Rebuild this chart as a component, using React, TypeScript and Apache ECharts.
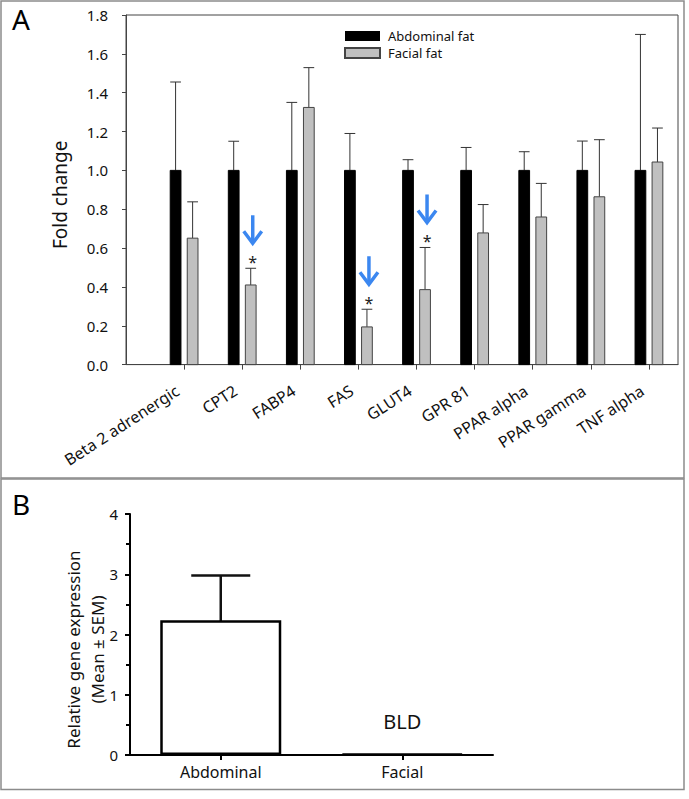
import React, { useEffect, useRef } from "react";
import * as echarts from "echarts";

// ---------- Panel A data ----------
const categories = [
  "Beta 2 adrenergic",
  "CPT2",
  "FABP4",
  "FAS",
  "GLUT4",
  "GPR 81",
  "PPAR alpha",
  "PPAR gamma",
  "TNF alpha",
];
const abdominalMean = [1, 1, 1, 1, 1, 1, 1, 1, 1];
const abdominalSem = [0.455, 0.15, 0.35, 0.19, 0.055, 0.118, 0.096, 0.151, 0.7];
const facialMean = [0.651, 0.41, 1.324, 0.194, 0.386, 0.678, 0.76, 0.864, 1.043];
const facialSem = [0.187, 0.086, 0.205, 0.091, 0.217, 0.146, 0.173, 0.294, 0.175];
const significant = [false, true, false, true, true, false, false, false, false];
const seriesNames = ["Abdominal fat", "Facial fat"];

// ---------- Panel B data ----------
const groupsB = ["Abdominal", "Facial"];
const expressionMean = [2.236, 0.02];
const expressionSem = [0.745, 0];
const groupNotes = ["", "BLD"];

const FONT = "Noto Sans";
const BLUE = "#3b87f0";

function barRenderer(offsetFrac: number, fill: string, stroke: string) {
  return (params: any, api: any) => {
    const x = api.value(0);
    const m = api.value(1);
    const s = api.value(2);
    const unit = api.size([1, 0])[0];
    const base = api.coord([x, 0]);
    const top = api.coord([x, m]);
    const et = api.coord([x, m + s]);
    const cx = base[0] + offsetFrac * unit;
    const w = 0.185 * unit;
    return {
      type: "group",
      children: [
        {
          type: "line",
          shape: { x1: cx, y1: top[1], x2: cx, y2: et[1] },
          style: { stroke: "#333", lineWidth: 1 },
        },
        {
          type: "line",
          shape: { x1: cx - w / 2, y1: et[1], x2: cx + w / 2, y2: et[1] },
          style: { stroke: "#333", lineWidth: 1 },
        },
        {
          type: "rect",
          shape: { x: cx - w / 2, y: top[1], width: w, height: base[1] - top[1] },
          style: { fill, stroke, lineWidth: 1 },
        },
      ],
    };
  };
}

export default function App() {
  const ref = useRef<HTMLDivElement>(null);

  useEffect(() => {
    if (!ref.current) return;
    const chart = echarts.init(ref.current, null, { renderer: "svg" });

    const abdData = categories.map((_, i) => [i + 1, abdominalMean[i], abdominalSem[i]]);
    const facData = categories.map((_, i) => [i + 1, facialMean[i], facialSem[i]]);
    const sigData = categories
      .map((_, i) => (significant[i] ? [i + 1, facialMean[i] + facialSem[i]] : null))
      .filter((d) => d !== null);
    const tickVals = categories.map((_, i) => i + 1);

    const option: any = {
      animation: false,
      backgroundColor: "#fff",
      textStyle: { fontFamily: FONT },
      graphic: [
        {
          type: "rect",
          silent: true,
          shape: { x: 1, y: 1, width: 683, height: 477 },
          style: { fill: "none", stroke: "#8c8c8c", lineWidth: 1.5 },
        },
        {
          type: "rect",
          silent: true,
          shape: { x: 1, y: 479, width: 683, height: 310.5 },
          style: { fill: "none", stroke: "#8c8c8c", lineWidth: 1.5 },
        },
        {
          type: "text",
          x: 12,
          y: 5,
          style: { text: "A", fontSize: 28, fontFamily: FONT, fill: "#000", textVerticalAlign: "top" },
        },
        {
          type: "text",
          x: 12,
          y: 490,
          style: { text: "B", fontSize: 28, fontFamily: FONT, fill: "#000", textVerticalAlign: "top" },
        },
      ],
      legend: {
        data: seriesNames,
        orient: "vertical",
        left: 339,
        top: 24,
        itemWidth: 35,
        itemHeight: 10,
        itemGap: 3,
        icon: "rect",
        selectedMode: false,
        textStyle: { fontSize: 13, lineHeight: 14, fontFamily: FONT, color: "#111", padding: [0, 0, 0, 3] },
      },
      grid: [
        {
          left: 126,
          top: 15,
          right: 11,
          bottom: 434.4,
          show: true,
          borderColor: "#444",
          borderWidth: 1,
          backgroundColor: "transparent",
        },
        { left: 130, right: 196, top: 514, bottom: 44 },
      ],
      xAxis: [
        {
          type: "value",
          gridIndex: 0,
          min: 0,
          max: 9.5,
          splitLine: { show: false },
          axisLine: { show: true, lineStyle: { color: "#444", width: 1 } },
          axisTick: {
            show: true,
            customValues: tickVals,
            length: 5,
            lineStyle: { color: "#444" },
          },
          axisLabel: {
            customValues: tickVals,
            formatter: (v: number) => categories[Math.round(v) - 1] ?? "",
            rotate: 33,
            fontSize: 16,
            margin: 20,
            padding: [0, 8, 0, 0],
            color: "#111",
            fontFamily: FONT,
          },
        },
        {
          type: "category",
          gridIndex: 1,
          data: groupsB,
          axisLine: { show: true, lineStyle: { color: "#000", width: 2 } },
          axisTick: { show: true, alignWithLabel: true, length: 5, lineStyle: { width: 2, color: "#000" } },
          axisLabel: { fontSize: 16, margin: 9, color: "#111", fontFamily: FONT },
        },
      ],
      yAxis: [
        {
          type: "value",
          gridIndex: 0,
          min: 0,
          max: 1.8,
          interval: 0.2,
          splitLine: { show: false },
          axisLine: { show: true, lineStyle: { color: "#444", width: 1 } },
          axisTick: { show: true, length: 4, lineStyle: { color: "#444" } },
          axisLabel: {
            formatter: (v: number) => v.toFixed(1),
            fontSize: 15,
            margin: 18,
            color: "#111",
            fontFamily: FONT,
          },
          name: "Fold change",
          nameLocation: "middle",
          nameGap: 57,
          nameMoveOverlap: false,
          nameTextStyle: { fontSize: 19, color: "#111", fontFamily: FONT, padding: [0, 10, 0, 0] },
        },
        {
          type: "value",
          gridIndex: 1,
          min: 0,
          max: 4,
          interval: 1,
          splitLine: { show: false },
          minorSplitLine: { show: false },
          axisLine: { show: true, lineStyle: { color: "#000", width: 2 } },
          axisTick: { show: true, length: 5, lineStyle: { width: 2, color: "#000" } },
          minorTick: { show: true, splitNumber: 2, length: 4, lineStyle: { width: 2, color: "#000" } },
          axisLabel: { fontSize: 15, margin: 12, color: "#111", fontFamily: FONT },
          name: "Relative gene expression\n(Mean ± SEM)",
          nameLocation: "middle",
          nameGap: 21,
          nameMoveOverlap: false,
          nameTextStyle: { fontSize: 17, lineHeight: 24, color: "#111", fontFamily: FONT, padding: [0, 30, 0, 0] },
        },
      ],
      series: [
        {
          name: seriesNames[0],
          type: "custom",
          xAxisIndex: 0,
          yAxisIndex: 0,
          itemStyle: { color: "#000" },
          renderItem: barRenderer(-0.1466, "#000", "#000"),
          data: abdData,
        },
        {
          name: seriesNames[1],
          type: "custom",
          xAxisIndex: 0,
          yAxisIndex: 0,
          itemStyle: { color: "#c0c0c0", borderColor: "#444", borderWidth: 1 },
          renderItem: barRenderer(0.1466, "#c0c0c0", "#444"),
          data: facData,
        },
        {
          name: "significance",
          type: "custom",
          xAxisIndex: 0,
          yAxisIndex: 0,
          silent: true,
          renderItem: (params: any, api: any) => {
            const x = api.value(0);
            const v = api.value(1);
            const p = api.coord([x, v]);
            const unit = api.size([1, 0])[0];
            const cx = p[0] + 0.1466 * unit + 2;
            const y = p[1];
            return {
              type: "group",
              children: [
                {
                  type: "text",
                  x: cx,
                  y: y - 6,
                  style: {
                    text: "*",
                    fontSize: 16,
                    fontFamily: FONT,
                    fill: "#222",
                    textAlign: "center",
                    textVerticalAlign: "middle",
                  },
                },
                {
                  type: "line",
                  shape: { x1: cx, y1: y - 53, x2: cx, y2: y - 26 },
                  style: { stroke: BLUE, lineWidth: 3.5 },
                },
                {
                  type: "polyline",
                  shape: { points: [[cx - 9, y - 37], [cx, y - 25], [cx + 9, y - 37]] },
                  style: { stroke: BLUE, lineWidth: 3.5, fill: "none" },
                },
              ],
            };
          },
          data: sigData,
        },
        {
          name: "expression",
          type: "bar",
          xAxisIndex: 1,
          yAxisIndex: 1,
          barWidth: 121,
          data: expressionMean,
          itemStyle: { color: "#fff", borderColor: "#000", borderWidth: 2.5 },
          label: {
            show: true,
            position: "top",
            distance: 22,
            formatter: (p: any) => groupNotes[p.dataIndex],
            fontSize: 20,
            color: "#111",
            fontFamily: FONT,
          },
        },
        {
          name: "expressionError",
          type: "custom",
          xAxisIndex: 1,
          yAxisIndex: 1,
          silent: true,
          renderItem: (params: any, api: any) => {
            const x = api.value(0);
            const m = api.value(1);
            const s = api.value(2);
            if (!s) return null;
            const hi = api.coord([x, m + s]);
            const lo = api.coord([x, m - s]);
            const half = 29.5;
            const st = { stroke: "#111", lineWidth: 2.5 };
            return {
              type: "group",
              children: [
                { type: "line", shape: { x1: hi[0], y1: hi[1], x2: lo[0], y2: lo[1] }, style: st },
                { type: "line", shape: { x1: hi[0] - half, y1: hi[1], x2: hi[0] + half, y2: hi[1] }, style: st },
                { type: "line", shape: { x1: lo[0] - half, y1: lo[1], x2: lo[0] + half, y2: lo[1] }, style: st },
              ],
            };
          },
          data: groupsB.map((_, i) => [i, expressionMean[i], expressionSem[i]]),
        },
      ],
    };

    chart.setOption(option);
    return () => chart.dispose();
  }, []);

  return (
    <div
      ref={ref}
      style={{ position: "absolute", left: 0, top: 0, width: 689, height: 799 }}
    />
  );
}
